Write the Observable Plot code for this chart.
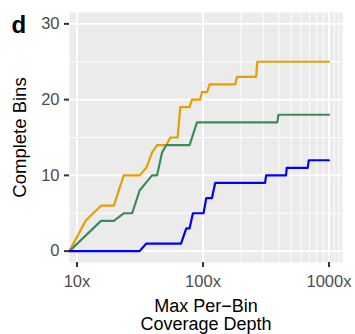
<!DOCTYPE html>
<html>
<head>
<meta charset="utf-8">
<script src="https://cdn.jsdelivr.net/npm/d3@7"></script>
<script src="https://cdn.jsdelivr.net/npm/@observablehq/plot@0.6"></script>
<style>
  html, body { margin: 0; padding: 0; background: #fff; }
  #chart { width: 355px; height: 334px; }
</style>
</head>
<body>
<div id="chart"></div>
<script>
// Series
const orangeDepth = [8.72, 11.7, 15.5, 19.6, 23.5, 31.4, 35.5, 39.4, 43.2, 51.2, 55, 62.9, 66, 78.2, 81.7, 95.1, 98.1, 108, 112.7, 180, 185.8, 264, 270, 1000];
const orangeBins  = [0, 4, 6, 6, 10, 10, 11, 13, 14, 14, 15, 15, 19, 19, 20, 20, 21, 21, 22, 22, 23, 23, 25, 25];
const greenDepth  = [8.72, 15.5, 19.6, 23.5, 27.4, 31.4, 39.4, 43.2, 47.3, 51.2, 78.2, 89.6, 389, 397, 1000];
const greenBins   = [0, 4, 4, 5, 5, 8, 10, 10, 13, 14, 14, 17, 17, 18, 18];
const blueDepth   = [8.72, 31.4, 35.5, 66.9, 73.7, 78.2, 83.2, 101, 106.1, 117.7, 125, 311, 317, 456, 462, 678, 691, 1000];
const blueBins    = [0, 0, 1, 1, 3, 3, 5, 5, 7, 7, 9, 9, 10, 10, 11, 11, 12, 12];

const seriesNames  = ["series A", "series B", "series C"];
const seriesColors = ["#E69F00", "#3B8C5A", "#0000FF"];

const xTicks = [10, 100, 1000];
const xTickLabels = ["10x", "100x", "1000x"];
const xMinor = [100, 200, 300, 400, 500, 600, 700, 800, 900, 1000, 1100, 1200];
const yTicks = [0, 10, 20, 30];
const yMinor = [5, 15, 25];

const xTitle = "Max Per\u2212Bin\nCoverage Depth";
const yTitle = "Complete Bins";
const panelTag = "d";

const seriesData = [
  [orangeDepth, orangeBins],
  [greenDepth, greenBins],
  [blueDepth, blueBins]
];
const rows = [];
seriesData.forEach(([xs, ys], i) => {
  xs.forEach((x, j) => rows.push({series: seriesNames[i], depth: x, bins: ys[j]}));
});

const font = "'Liberation Sans', Arial, Helvetica, sans-serif";

const chart = Plot.plot({
  width: 355,
  height: 334,
  marginLeft: 69,
  marginRight: 13,
  marginTop: 12,
  marginBottom: 72,
  style: {fontFamily: font, background: "#fff", overflow: "visible"},
  x: {type: "log", domain: [8.72, 1280]},
  y: {domain: [-1.5, 31.5]},
  color: {type: "ordinal", domain: seriesNames, range: seriesColors},
  marks: [
    Plot.frame({fill: "#EBEBEB", stroke: null}),
    Plot.ruleX(xMinor, {stroke: "#fff", strokeWidth: 0.9}),
    Plot.ruleY(yMinor, {stroke: "#fff", strokeWidth: 0.9}),
    Plot.ruleX(xTicks, {stroke: "#fff", strokeWidth: 1.8}),
    Plot.ruleY(yTicks, {stroke: "#fff", strokeWidth: 1.8}),
    Plot.line(rows, {x: "depth", y: "bins", z: "series", stroke: "series", strokeWidth: 2.2, strokeLinejoin: "round"}),
    Plot.axisX({ticks: xTicks, tickFormat: (d) => xTickLabels[xTicks.indexOf(d)], tickSize: 5, tickPadding: 7.5,
      fontSize: 16.5, stroke: "#333", strokeWidth: 2, fill: "#4D4D4D", label: null}),
    Plot.axisY({ticks: yTicks, tickSize: 5, tickPadding: 5, fontSize: 16.5, stroke: "#333", strokeWidth: 2,
      fill: "#4D4D4D", label: null}),
    Plot.text([xTitle], {frameAnchor: "bottom", textAnchor: "middle", lineAnchor: "top", dy: 36, fontSize: 18, lineHeight: 1.02, fill: "#000"}),
    Plot.text([yTitle], {frameAnchor: "left", textAnchor: "middle", lineAnchor: "middle", rotate: -90, dx: -49.5, fontSize: 18.5, fill: "#000"}),
    Plot.text([panelTag], {frameAnchor: "top-left", textAnchor: "start", lineAnchor: "top", dx: -58, dy: 3, fontSize: 24, fontWeight: "bold", fill: "#000"})
  ]
});
document.getElementById("chart").appendChild(chart);
</script>
</body>
</html>
